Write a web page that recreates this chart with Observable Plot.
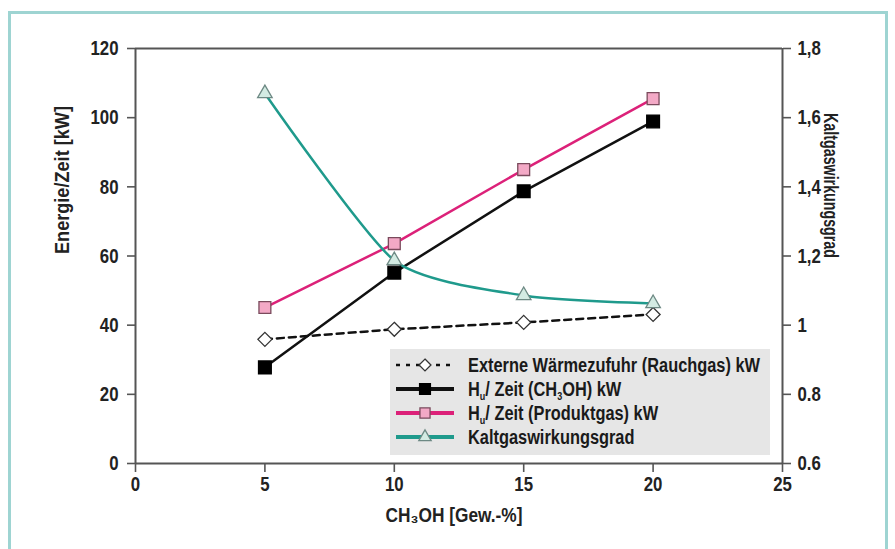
<!DOCTYPE html>
<html>
<head>
<meta charset="utf-8">
<script src="https://cdn.jsdelivr.net/npm/d3@7"></script>
<script src="https://cdn.jsdelivr.net/npm/@observablehq/plot@0.6"></script>
<style>
  html, body { margin: 0; padding: 0; background: #fff; }
  #wrap { position: relative; width: 895px; height: 549px; overflow: hidden; font-family: 'Liberation Sans', Arial, sans-serif; }
  #border { position: absolute; left: 8px; top: 11px; width: 880px; height: 560px; border: 3px solid #9ed4d2; box-sizing: border-box; pointer-events: none; }
  #chart { position: absolute; left: 0; top: 0; }
  #legend { position: absolute; left: 390px; top: 349px; width: 380px; height: 106px; background: #e6e6e6; box-sizing: border-box; padding: 4px 0 0 4px; }
  .entry { display: flex; align-items: center; height: 24px; font-size: 20px; color: #1a1a1a; font-weight: bold; white-space: nowrap; }
  .entry svg { margin-right: 12px; flex: none; }
  .entry span { display: inline-block; transform-origin: 0 50%; }
  sub { font-size: 55%; vertical-align: -4px; line-height: 0; }
</style>
</head>
<body>
<div id="wrap">
  <div id="chart"></div>
  <div id="legend"></div>
  <div id="border"></div>
</div>
<script>
// ---- data ----
const xValues = [5, 10, 15, 20];
const waermezufuhr = [35.9, 38.8, 40.8, 43.1];      // Externe Wärmezufuhr (Rauchgas) kW
const huCh3oh = [27.8, 55.2, 78.7, 98.9];           // Hu/Zeit (CH3OH) kW
const huProduktgas = [45.1, 63.6, 85.0, 105.5];     // Hu/Zeit (Produktgas) kW
const kaltgas = [1.67, 1.187, 1.086, 1.063];        // Kaltgaswirkungsgrad (right axis)

const xTicks = [0, 5, 10, 15, 20, 25];
const yTicks = [0, 20, 40, 60, 80, 100, 120];
const y2Ticks = [0.6, 0.8, 1, 1.2, 1.4, 1.6, 1.8];
const y2Labels = ["0.6", "0.8", "1", "1,2", "1,4", "1,6", "1,8"];

const xTitle = "CH₃OH [Gew.-%]";
const yTitle = "Energie/Zeit [kW]";
const y2Title = "Kaltgaswirkungsgrad";

const seriesNames = [
  "Externe Wärmezufuhr (Rauchgas) kW",
  "H<sub>u</sub>/ Zeit (CH<sub>3</sub>OH) kW",
  "H<sub>u</sub>/ Zeit (Produktgas) kW",
  "Kaltgaswirkungsgrad"
];

// right axis 0.6..1.8 mapped onto left 0..120
const y2Min = 0.6, y2Max = 1.8, yMax = 120;
const toLeft = v => (v - y2Min) / (y2Max - y2Min) * yMax;

const styles = [
  {line: "#111", dash: "7,5", width: 2.5, symbol: "diamond2", r: 6.3, fill: "#fff", sym: "#333"},
  {line: "#111", dash: null, width: 2.5, symbol: "square", r: 7.2, fill: "#000", sym: "#000"},
  {line: "#dc2179", dash: null, width: 2.5, symbol: "square", r: 6.7, fill: "#f3a9c6", sym: "#7a4a5c"},
  {line: "#1f9a8c", dash: null, width: 2.5, symbol: "triangle", r: 5.4, fill: "#d3ebe3", sym: "#6d8984"}
];

const rows = s => xValues.map((x, i) => ({x, y: s[i]}));
const series = [
  rows(waermezufuhr),
  rows(huCh3oh),
  rows(huProduktgas),
  rows(kaltgas.map(toLeft))
];

const tickFont = {fontSize: 21, fontWeight: "bold", stroke: "#555", strokeWidth: 1.6, label: null};
const marks = [];
// frame lines
marks.push(Plot.ruleY([0, yMax], {stroke: "#555", strokeWidth: 2}));
marks.push(Plot.ruleX([0, 25], {stroke: "#555", strokeWidth: 2}));
// axes
marks.push(Plot.axisX({ticks: xTicks, tickSize: 9, tickPadding: 4, ...tickFont}));
marks.push(Plot.axisY({anchor: "left", ticks: yTicks, tickSize: 8, tickPadding: 9, ...tickFont}));
marks.push(Plot.axisY({anchor: "right", ticks: y2Ticks.map(toLeft), tickFormat: (d, i) => y2Labels[i], tickSize: 8, tickPadding: 7, ...tickFont}));
// axis titles
marks.push(Plot.text([xTitle], {frameAnchor: "bottom", dy: 58, fontSize: 20, fontWeight: "bold", fill: "#222", dx: -5}));
marks.push(Plot.text([yTitle], {frameAnchor: "left", dx: -73, dy: -2, rotate: -90, fontSize: 20, fontWeight: "bold", fill: "#222"}));
marks.push(Plot.text([y2Title], {frameAnchor: "right", dx: 48, dy: 2, rotate: 90, fontSize: 20, fontWeight: "bold", fill: "#222"}));

// lines (teal smooth)
series.forEach((d, i) => {
  const s = styles[i];
  marks.push(Plot.line(d, {x: "x", y: "y", stroke: s.line, strokeWidth: s.width, strokeDasharray: s.dash,
    curve: i === 3 ? "cardinal" : "linear", tension: i === 3 ? 0.35 : undefined}));
});
series.forEach((d, i) => {
  const s = styles[i];
  marks.push(Plot.dot(d, {x: "x", y: "y", symbol: s.symbol, r: s.r, fill: s.fill, stroke: s.sym, strokeWidth: 1.3}));
});

const chart = Plot.plot({
  width: 895,
  height: 549,
  marginLeft: 135,
  marginRight: 113,
  marginTop: 48,
  marginBottom: 86,
  style: {fontFamily: "'Liberation Sans', Arial, sans-serif", color: "#222", background: "transparent"},
  x: {domain: [0, 25]},
  y: {domain: [0, yMax]},
  marks
});
document.getElementById("chart").appendChild(chart);

// condensed look: squeeze text horizontally around its anchor
const targetWidths = {[xTitle]: 137, [yTitle]: 148, [y2Title]: 145};
chart.querySelectorAll("text").forEach(t => {
  const tr = t.getAttribute("transform");
  if (!tr) return;
  const txt = t.textContent;
  let s = 0.8;
  if (targetWidths[txt]) s = targetWidths[txt] / t.getComputedTextLength();
  t.setAttribute("transform", tr + ` scale(${s},1)`);
});

// legend
const legend = document.getElementById("legend");
seriesNames.forEach((name, i) => {
  const s = styles[i];
  const e = document.createElement("div");
  e.className = "entry";
  const sym = d3.symbol(s.symbol === "diamond2" ? d3.symbolDiamond2 : s.symbol === "square" ? d3.symbolSquare : d3.symbolTriangle, Math.PI * (s.r * 0.85) ** 2)();
  e.innerHTML = `<svg width="62" height="20"><line x1="2" x2="60" y1="10" y2="10" stroke="${s.line}" stroke-width="${i === 0 ? 2.5 : 4}" ${s.dash ? 'stroke-dasharray="4,6"' : ''}/><path d="${sym}" transform="translate(31,10)" fill="${s.fill}" stroke="${s.sym}" stroke-width="1.3"/></svg><span>${name}</span>`;
  legend.appendChild(e);
});
const spans = legend.querySelectorAll("span");
const legendScale = 292 / spans[0].getBoundingClientRect().width;
spans.forEach(sp => sp.style.transform = `scaleX(${legendScale})`);
</script>
</body>
</html>
